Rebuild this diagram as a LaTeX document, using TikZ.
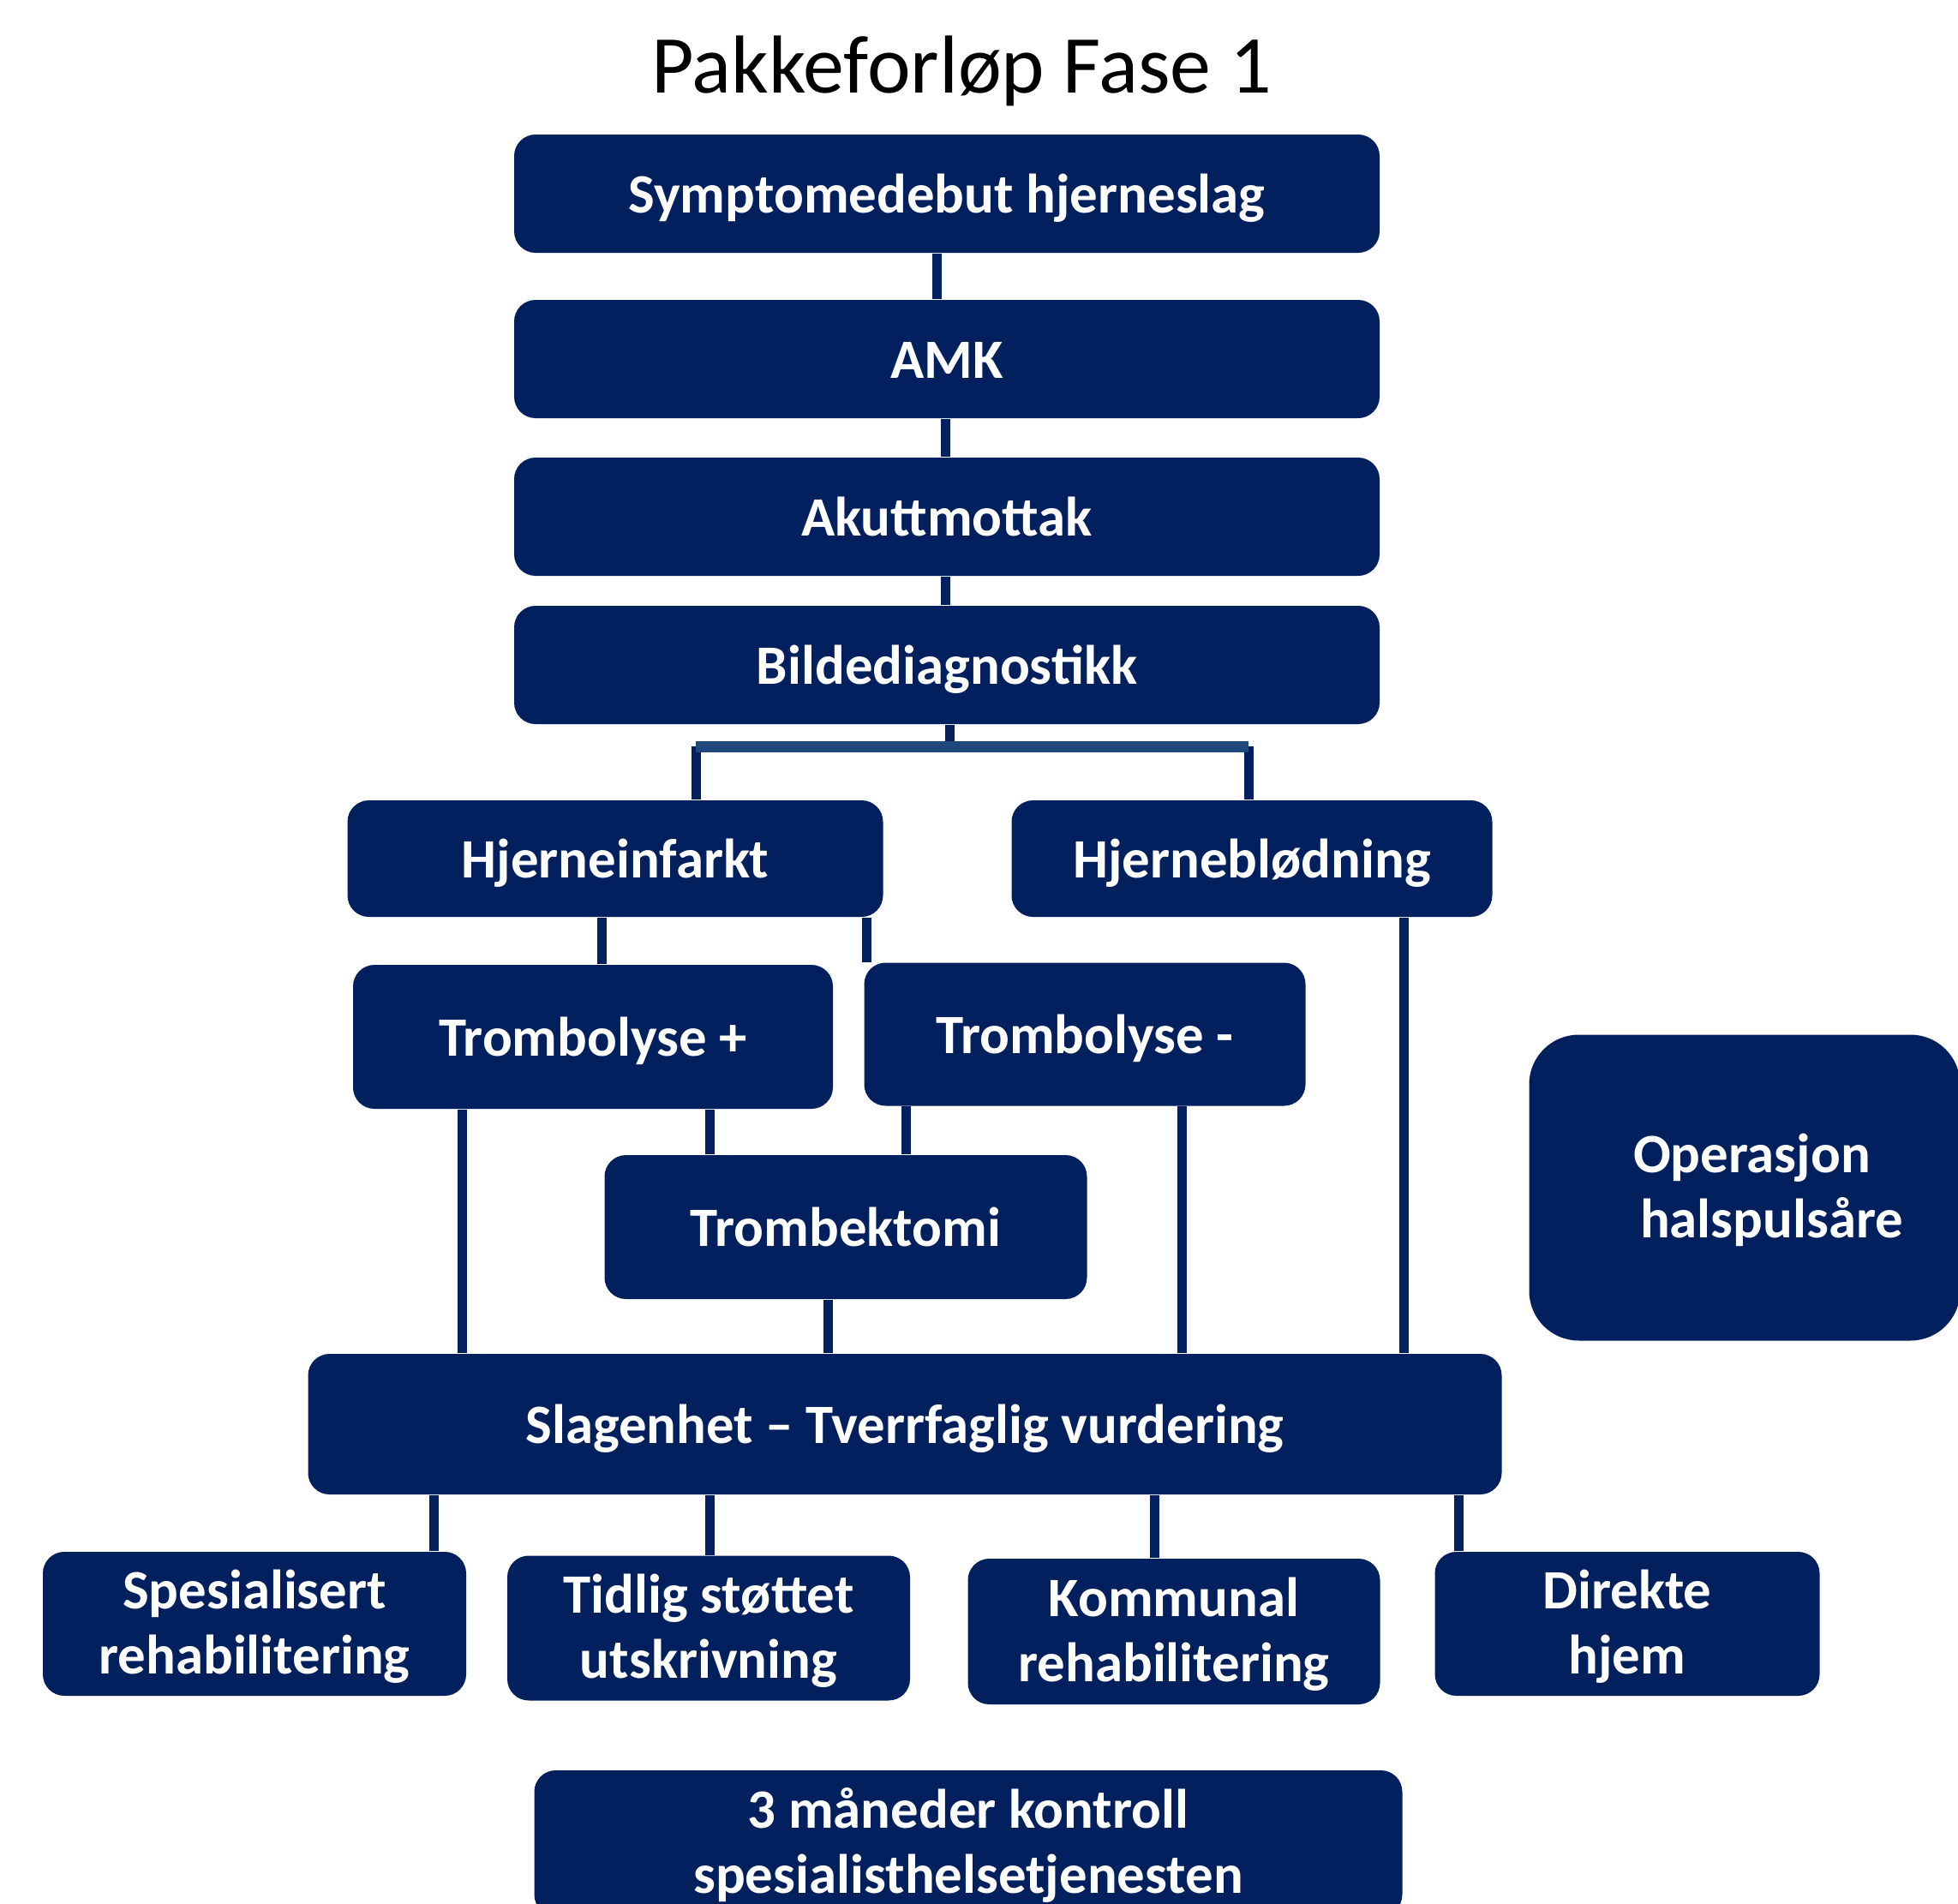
\documentclass[tikz,border=0pt]{standalone}
\usepackage{fontspec}
\setmainfont{Carlito}
\usepackage{tikz}
\usetikzlibrary{shapes,arrows,positioning}
\definecolor{navy}{RGB}{2,32,94}
\definecolor{steel}{RGB}{31,73,125}
\tikzstyle{link} = [draw=navy, line width=0.11cm]
\tikzstyle{bar} = [draw=steel, line width=0.13cm]
\tikzstyle{stepbox} = [rectangle, rounded corners=0.25cm, fill=navy, text=white,
   inner sep=0pt, align=center, text height=0.62cm, text depth=0.175cm,
   font=\fontsize{18.45pt}{21.5pt}\selectfont\bfseries]
\tikzstyle{twoline} = [stepbox, text height=1.34cm]
\tikzstyle{stage} = [stepbox, minimum width=10.1cm, minimum height=1.38cm]

\begin{document}
\begin{tikzpicture}[node distance=1.2cm]
\useasboundingbox (0,0) rectangle (22.85,-22.22);

\node (title) [anchor=base, font=\fontsize{27.3pt}{32pt}\selectfont] at (11.22,-1.08) {Pakkeforløp Fase 1};

\node (sym) [stage] at (11.05,-2.26) {Symptomedebut hjerneslag};
\node (amk) [stage, below of=sym, yshift=-0.73cm] {AMK};
\node (akutt) [stage, below of=amk, yshift=-0.64cm] {Akuttmottak};
\node (bilde) [stage, below of=akutt, yshift=-0.53cm] {Bildediagnostikk};

\node (infarkt) [stepbox, minimum width=6.25cm, minimum height=1.36cm] at (7.18,-10.02) {Hjerneinfarkt};
\node (bloed) [stepbox, minimum width=5.61cm, minimum height=1.36cm] at (14.61,-10.02) {Hjerneblødning};

\node (tplus) [stepbox, minimum width=5.6cm, minimum height=1.68cm] at (6.92,-12.10) {Trombolyse +};
\node (tminus) [stepbox, minimum width=5.15cm, minimum height=1.67cm] at (12.66,-12.07) {Trombolyse -};
\node (tbek) [stepbox, minimum width=5.63cm, minimum height=1.68cm] at (9.87,-14.32) {Trombektomi};

\node (oper) [twoline, align=left, rounded corners=0.58cm, minimum width=5.03cm, minimum height=3.57cm] at (20.36,-13.86)
   {\hspace*{0.55cm}Operasjon\\ \hspace*{0.63cm}halspulsåre};

\node (slag) [stepbox, minimum width=13.93cm, minimum height=1.64cm] at (10.56,-16.62) {Slagenhet -- Tverrfaglig vurdering};

\node (spes) [twoline, minimum width=4.94cm, minimum height=1.68cm] at (2.97,-18.95) {Spesialisert\\ rehabilitering};
\node (tidlig) [twoline, minimum width=4.7cm, minimum height=1.69cm] at (8.27,-19.00) {Tidlig støttet\\ utskrivning};
\node (kommunal) [twoline, minimum width=4.81cm, minimum height=1.70cm] at (13.70,-19.04) {Kommunal\\ rehabilitering};
\node (direkte) [twoline, minimum width=4.49cm, minimum height=1.68cm] at (18.99,-18.95) {Direkte\\ hjem};

\node (kontroll) [twoline, minimum width=10.13cm, minimum height=1.70cm] at (11.30,-21.51) {3 måneder kontroll\\ spesialisthelsetjenesten};

\foreach \col/\xpos in {ca/10.93, cb/11.03, cl/8.12, cr/14.57, cd/7.02, ce/10.11, cf/5.39, cg/8.28,
   ch/10.57, ci/13.79, cj/16.38, ck/9.66, cm/5.06, cn/13.47, co/17.02}
   \coordinate (\col) at (\xpos,0);
\coordinate (split) at (11.08,-8.71);

\draw [link] (sym.south -| ca) -- (amk.north -| ca);
\draw [link] (amk.south -| cb) -- (akutt.north -| cb);
\draw [link] (akutt.south -| cb) -- (bilde.north -| cb);
\draw [link] (bilde.south -| split) -- (split);

\draw [link] (split -| cl) -- (infarkt.north -| cl);
\draw [link] (split -| cr) -- (bloed.north -| cr);
\draw [bar] (split -| cl) -- (split -| cr);

\draw [link] (infarkt.south -| cd) -- (tplus.north -| cd);
\draw [link] (infarkt.south -| ce) -- (tminus.north -| ce);

\draw [link] (tplus.south -| cf) -- (slag.north -| cf);
\draw [link] (tplus.south -| cg) -- (tbek.north -| cg);
\draw [link] (tminus.south -| ch) -- (tbek.north -| ch);
\draw [link] (tminus.south -| ci) -- (slag.north -| ci);
\draw [link] (bloed.south -| cj) -- (slag.north -| cj);
\draw [link] (tbek.south -| ck) -- (slag.north -| ck);

\draw [link] (slag.south -| cm) -- (spes.north -| cm);
\draw [link] (slag.south -| cg) -- (tidlig.north -| cg);
\draw [link] (slag.south -| cn) -- (kommunal.north -| cn);
\draw [link] (slag.south -| co) -- (direkte.north -| co);

\end{tikzpicture}
\end{document}
